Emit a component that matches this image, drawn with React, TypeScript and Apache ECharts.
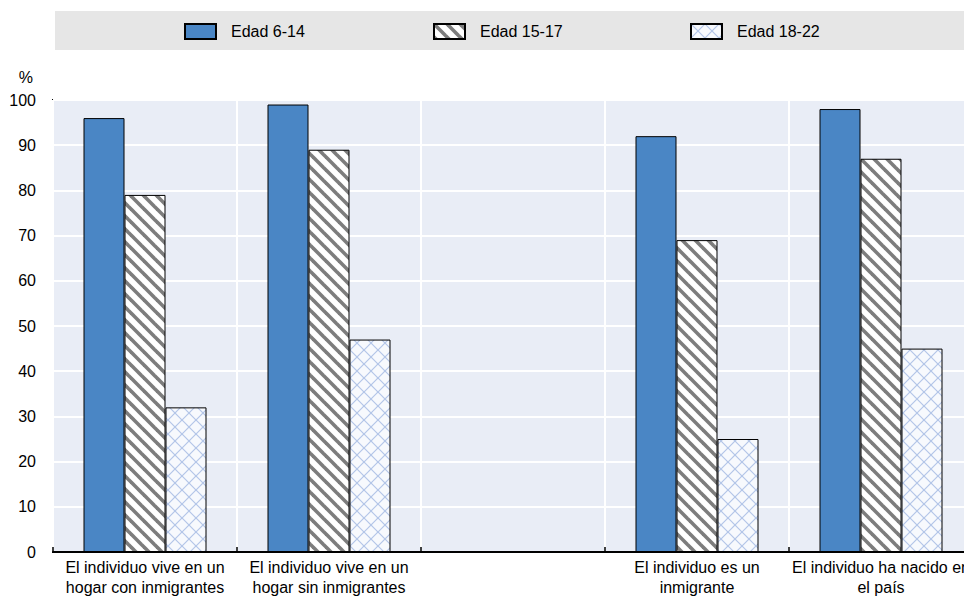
import React, { useEffect, useRef } from "react";
import * as echarts from "echarts";

const categories = [
  "El individuo vive en un\nhogar con inmigrantes",
  "El individuo vive en un\nhogar sin inmigrantes",
  "",
  "El individuo es un\ninmigrante",
  "El individuo ha nacido en\nel país",
];
const seriesNames = ["Edad 6-14", "Edad 15-17", "Edad 18-22"];
const age6to14 = [96, 99, "-", 92, 98];
const age15to17 = [79, 89, "-", 69, 87];
const age18to22 = [32, 47, "-", 25, 45];
const yTicks = { min: 0, max: 100, interval: 10 };

const FONT = "'Liberation Sans Narrow', 'Arial Narrow', 'Liberation Sans', Arial, sans-serif";

function makeStripe(): HTMLCanvasElement {
  const s = 13;
  const c = document.createElement("canvas");
  c.width = s;
  c.height = s;
  const ctx = c.getContext("2d")!;
  ctx.fillStyle = "#ffffff";
  ctx.fillRect(0, 0, s, s);
  ctx.strokeStyle = "#7d7d7d";
  ctx.lineWidth = 3.6;
  for (let k = -1; k <= 1; k++) {
    ctx.beginPath();
    ctx.moveTo(k * s - 2, -2);
    ctx.lineTo(k * s + s + 2, s + 2);
    ctx.stroke();
  }
  return c;
}

function makeCross(): HTMLCanvasElement {
  const s = 14;
  const c = document.createElement("canvas");
  c.width = s;
  c.height = s;
  const ctx = c.getContext("2d")!;
  ctx.fillStyle = "#f7f9fd";
  ctx.fillRect(0, 0, s, s);
  ctx.strokeStyle = "#b3c5e8";
  ctx.lineWidth = 1.2;
  for (let k = -1; k <= 1; k++) {
    ctx.beginPath();
    ctx.moveTo(k * s - 2, -2);
    ctx.lineTo(k * s + s + 2, s + 2);
    ctx.stroke();
    ctx.beginPath();
    ctx.moveTo(k * s - 2, s + 2);
    ctx.lineTo(k * s + s + 2, -2);
    ctx.stroke();
  }
  return c;
}

export default function App() {
  const ref = useRef<HTMLDivElement>(null);
  useEffect(() => {
    if (!ref.current) return;
    const chart = echarts.init(ref.current, null, { renderer: "svg" });
    const stripe = makeStripe();
    const cross = makeCross();
    const legendBase = {
      top: 23,
      padding: 0,
      itemWidth: 31,
      itemHeight: 15,
      icon: "rect",
      selectedMode: false,
      textStyle: { fontFamily: FONT, fontSize: 16, color: "#000", padding: [0, 0, 0, 10], lineHeight: 15 },
    };
    const barBase = {
      type: "bar",
      barWidth: 41,
      barGap: "0%",
      emphasis: { disabled: true },
    };
    chart.setOption({
      animation: false,
      textStyle: { fontFamily: FONT },
      graphic: [
        { type: "rect", shape: { x: 55, y: 11, width: 930, height: 39 }, style: { fill: "#e6e6e6" }, z: 0 },
        {
          type: "text",
          x: 33,
          y: 77,
          style: { text: "%", fontFamily: FONT, fontSize: 16, fill: "#000", align: "right", verticalAlign: "middle" },
        },
      ],
      legend: [
        { ...legendBase, left: 184, data: [seriesNames[0]] },
        { ...legendBase, left: 433, data: [seriesNames[1]] },
        { ...legendBase, left: 690, data: [seriesNames[2]] },
      ],
      grid: {
        left: 53,
        top: 100,
        right: 7,
        bottom: 47,
        show: true,
        backgroundColor: "#e9edf6",
        borderColor: "#000",
        borderWidth: 2,
      },
      xAxis: {
        type: "category",
        data: categories,
        axisLine: { show: true, lineStyle: { color: "#000", width: 2 } },
        axisTick: { show: true, inside: true, length: 5, interval: 0, lineStyle: { color: "#000", width: 1.5 } },
        splitLine: { show: true, interval: 0, lineStyle: { color: "#ffffff", width: 2 } },
        axisLabel: { interval: 0, fontFamily: FONT, fontSize: 16, lineHeight: 20, color: "#000", margin: 5 },
      },
      yAxis: {
        type: "value",
        min: yTicks.min,
        max: yTicks.max,
        interval: yTicks.interval,
        axisLine: { show: false },
        axisTick: { show: false },
        splitLine: { show: true, lineStyle: { color: "#ffffff", width: 2 } },
        axisLabel: { fontFamily: FONT, fontSize: 16, color: "#000", margin: 17 },
      },
      series: [
        {
          ...barBase,
          name: seriesNames[0],
          data: age6to14,
          itemStyle: { color: "#4a86c5", borderColor: "#000", borderWidth: 1 },
        },
        {
          ...barBase,
          name: seriesNames[1],
          data: age15to17,
          itemStyle: {
            color: { image: stripe, repeat: "repeat", imageWidth: 13, imageHeight: 13 },
            borderColor: "#000",
            borderWidth: 1,
          },
        },
        {
          ...barBase,
          name: seriesNames[2],
          data: age18to22,
          itemStyle: {
            color: { image: cross, repeat: "repeat", imageWidth: 14, imageHeight: 14 },
            borderColor: "#000",
            borderWidth: 1,
          },
        },
      ],
    });
    return () => chart.dispose();
  }, []);
  return (
    <div style={{ position: "fixed", left: 0, top: 0, width: 964, height: 599, overflow: "hidden", background: "#fff" }}>
      <div ref={ref} style={{ width: 980, height: 599 }} />
    </div>
  );
}
